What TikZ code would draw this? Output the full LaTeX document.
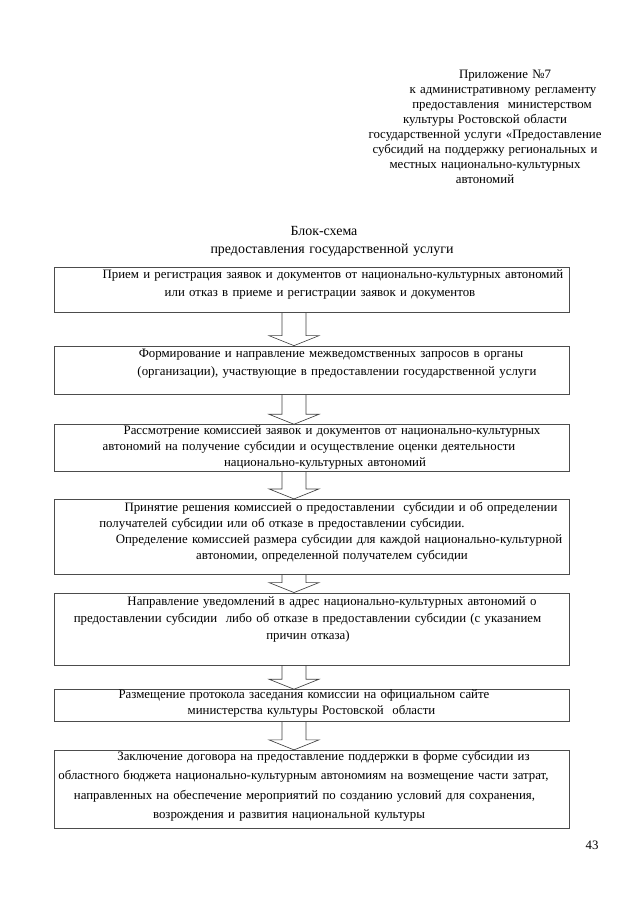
\documentclass[tikz,border=0pt]{standalone}
\usepackage{fontspec}
\setmainfont{Liberation Serif}
\usetikzlibrary{positioning,calc}
\newlength{\px}
\setlength{\px}{0.328125mm}

\begin{document}
\begin{tikzpicture}[
		x=0.328125mm, y=-0.328125mm,
		stepbox/.style  = {draw=black!70, line width=0.6pt, minimum width=515\px, inner sep=0pt},
		steptext/.style = {anchor=north, inner sep=0pt, text width=515\px, align=center, font=\fontsize{12}{16.8}\selectfont},
		headtext/.style = {inner sep=0pt, text width=300\px, align=center, font=\fontsize{12}{14}\selectfont},
		blockarrow/.style = {draw=black!75, line width=0.6pt}]
		
		\useasboundingbox (0,0) rectangle (640,905);
		
		% header and title
		\node[headtext, anchor=north] (hdr) at (485,70) {\hspace*{40\px}Приложение №7\\
			\hspace*{36\px}к административному регламенту\\
			\hspace*{34\px}предоставления~ министерством\\
			культуры Ростовской области\\
			государственной услуги «Предоставление\\
			субсидий на поддержку региональных и\\
			местных национально-культурных\\
			автономий};
		\node[headtext, anchor=north, font=\fontsize{13}{17}\selectfont] (ttl) at (330,226) {\hspace*{-12\px}Блок-схема\\
			\hspace*{4\px}предоставления государственной услуги};
		
		% the boxes, one below the other
		\node[stepbox, anchor=north, minimum height=45\px] (s1) at (311.5,267) {};
		\node[stepbox, minimum height=48\px, below=33\px of s1] (s2) {};
		\node[stepbox, minimum height=47\px, below=30\px of s2] (s3) {};
		\node[stepbox, minimum height=75\px, below=27\px of s3] (s4) {};
		\node[stepbox, minimum height=72\px, below=18\px of s4] (s5) {};
		\node[stepbox, minimum height=32\px, below=24\px of s5] (s6) {};
		\node[stepbox, minimum height=78\px, below=28\px of s6] (s7) {};
		
		% the texts of the boxes
		\node[steptext, below=2\px of s1.north] (t1) {\hspace*{43\px}Прием и регистрация заявок и документов от национально-культурных автономий\\
			\hspace*{17\px}или отказ в приеме и регистрации заявок и документов};
		\node[steptext, below=3\px of s2.north] (t2) {\hspace*{39\px}Формирование и направление межведомственных запросов в органы\\
			\hspace*{51\px}(организации), участвующие в предоставлении государственной услуги};
		\node[steptext, below=1\px of s3.north, font=\fontsize{12}{15}\selectfont] (t3) {\hspace*{41\px}Рассмотрение комиссией заявок и документов от национально-культурных\\
			\hspace*{-5\px}автономий на получение субсидии и осуществление оценки деятельности\\
			\hspace*{27\px}национально-культурных автономий};
		\node[steptext, below=3\px of s4.north, font=\fontsize{12}{15}\selectfont] (t4) {\hspace*{59\px}Принятие решения комиссией о предоставлении~ субсидии и об определении\\
			\hspace*{-59\px}получателей субсидии или об отказе в предоставлении субсидии.\\
			\hspace*{55\px}Определение комиссией размера субсидии для каждой национально-культурной\\
			\hspace*{41\px}автономии, определенной получателем субсидии};
		\node[steptext, below=4\px of s5.north, font=\fontsize{12}{15.8}\selectfont] (t5) {\hspace*{41\px}Направление уведомлений в адрес национально-культурных автономий о\\
			\hspace*{-8\px}предоставлении субсидии~ либо об отказе в предоставлении субсидии (с указанием\\
			\hspace*{-7\px}причин отказа)};
		\node[steptext, below=0\px of s6.north, font=\fontsize{12}{15}\selectfont] (t6) {\hspace*{-15\px}Размещение протокола заседания комиссии на официальном сайте\\
			министерства культуры Ростовской~ области};
		\node[steptext, below=1\px of s7.north, font=\fontsize{12}{18.2}\selectfont] (t7) {\hspace*{24\px}Заключение договора на предоставление поддержки в форме субсидии из\\
			\hspace*{-16\px}областного бюджета национально-культурным автономиям на возмещение части затрат,\\
			\hspace*{-14\px}направленных на обеспечение мероприятий по созданию условий для сохранения,\\
			\hspace*{-45\px}возрождения и развития национальной культуры};
		
		% page number
		\node[inner sep=0pt, font=\fontsize{12}{14}\selectfont] (pg) at (592,845) {43};
		
		% block arrows from each box to the next one
		\foreach \a/\b in {s1/s2, s2/s3, s3/s4, s4/s5, s5/s6, s6/s7}
		\draw[blockarrow] ($(\a.south)+(-29.5,0)$) -- ($(\b.north)+(-29.5,-10)$) -- ($(\b.north)+(-42.5,-10)$)
			-- ($(\b.north)+(-17.5,0)$) -- ($(\b.north)+(7.5,-10)$) -- ($(\b.north)+(-5.5,-10)$) -- ($(\a.south)+(-5.5,0)$);
		
	\end{tikzpicture}
\end{document}
